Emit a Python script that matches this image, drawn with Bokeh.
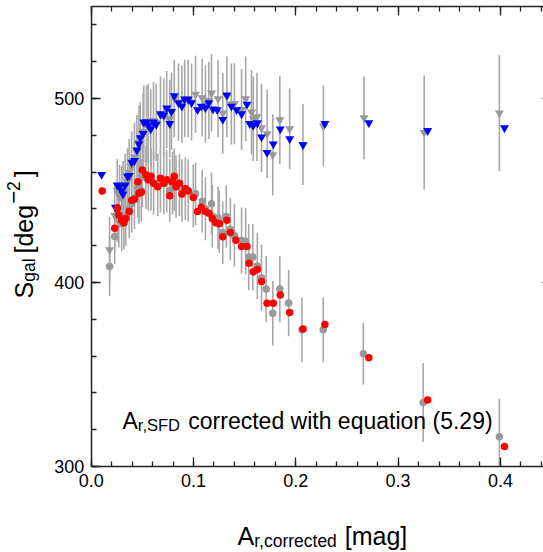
import math
import numpy as np
from bokeh.plotting import figure
from bokeh.models import (Range1d, LinearAxis, Label, ColumnDataSource,
                          SingleIntervalTicker, PrintfTickFormatter,
                          CustomJSTickFormatter)
from bokeh.embed import file_html
from bokeh.resources import INLINE

# ---------------- data ----------------
# upper series: gray (uncorrected) triangles with error bars
x_tri = [0.0180,0.0230,0.0254,0.0277,0.0298,0.0311,0.0332,0.0355,0.0372,0.0396,0.0423,0.0447,0.0467,0.0480,0.0508,0.0514,0.0541,0.0558,0.0582,0.0609,0.0636,0.0677,0.0710,0.0738,0.0768,0.0785,0.0812,0.0853,0.0887,0.0914,0.0948,0.0981,0.1020,0.1085,0.1117,0.1150,0.1176,0.1240,0.1286,0.1326,0.1370,0.1400,0.1470,0.1510,0.1567,0.1584,0.1620,0.1665,0.1720,0.1775,0.1844,0.1940,0.2070,0.2270,0.2667,0.3255,0.3990]
y_tri = [417.8,436.3,450.0,447.0,446.0,449.0,452.0,455.0,460.0,463.0,468.0,471.0,476.0,478.0,482.0,486.0,486.0,487.0,484.0,488.0,487.0,491.0,490.0,494.0,489.0,493.0,500.0,498.0,497.0,500.0,500.0,498.0,502.2,500.4,497.0,499.0,503.0,499.8,492.0,501.0,497.0,497.1,494.0,499.8,492.6,489.0,490.0,484.0,480.8,469.4,488.4,483.5,475.0,485.0,489.5,481.5,492.0]
err_tri = [18,17,17,17,17,17,18,18,18,19,19,20,20,20,21,21,21,21,21,21,21,21,21,21,21,21,21,21,21,21,21,21,21,21,21,21,21,21,22,22,22,22,22,23,23,23,24,24,24,22,24,22,22,22,22.5,31,31.5]

# upper series: blue (corrected) triangles
x_blue = [0.0102,0.0237,0.0254,0.0277,0.0298,0.0311,0.0332,0.0355,0.0372,0.0396,0.0423,0.0447,0.0467,0.0480,0.0508,0.0514,0.0541,0.0558,0.0582,0.0609,0.0636,0.0677,0.0710,0.0738,0.0768,0.0785,0.0812,0.0853,0.0887,0.0914,0.0948,0.0981,0.1040,0.1076,0.1117,0.1150,0.1191,0.1232,0.1286,0.1326,0.1370,0.1421,0.1470,0.1523,0.1550,0.1584,0.1624,0.1665,0.1719,0.1780,0.1848,0.1940,0.2071,0.2284,0.2714,0.3289,0.4040]
y_blue = [458.6,440.9,452.9,452.0,450.0,448.1,452.9,457.7,458.1,465.3,466.3,472.0,475.2,478.6,480.9,487.2,487.2,485.3,483.4,487.2,485.9,491.6,491.0,494.8,486.3,492.9,501.5,497.7,495.8,499.6,499.6,497.7,493.9,495.8,494.9,497.7,494.3,493.9,488.6,501.9,495.8,493.9,491.6,496.8,486.3,485.3,486.7,479.0,470.6,475.2,483.4,478.1,474.8,486.3,486.8,482.5,484.0]

# lower series: gray (uncorrected) circles with error bars
x_circ = [0.0180,0.0230,0.0257,0.0270,0.0298,0.0320,0.0338,0.0372,0.0396,0.0423,0.0457,0.0467,0.0490,0.0500,0.0535,0.0558,0.0585,0.0610,0.0650,0.0677,0.0710,0.0738,0.0768,0.0795,0.0812,0.0829,0.0863,0.0887,0.0920,0.0948,0.0998,0.1020,0.1085,0.1117,0.1176,0.1184,0.1240,0.1252,0.1286,0.1320,0.1360,0.1400,0.1470,0.1510,0.1540,0.1580,0.1624,0.1665,0.1710,0.1775,0.1844,0.1930,0.2060,0.2268,0.2660,0.3245,0.3990]
y_circ = [408.7,425.0,437.0,434.0,432.0,433.0,436.0,440.0,443.0,446.0,452.0,449.0,450.0,458.0,457.0,456.0,456.0,454.0,453.0,455.0,454.0,455.0,450.0,454.0,456.0,452.0,453.0,450.0,451.0,450.0,447.0,448.2,444.2,440.0,442.8,436.0,435.2,433.0,427.0,435.9,429.0,425.5,422.8,422.4,413.8,413.8,409.0,402.6,396.4,383.3,396.4,388.8,374.3,374.3,361.3,334.8,316.2]
err_circ = [16,15,15,15,15,15,16,16,16,17,17,17,17,17,17,17,17,17,17,17,17,17,17,17,17,17,17,17,17,17,17,17,17,17,17,17,17,17,17,17,17,17,18,18,18,18,18,18,18,17.6,18,18,17.6,17.6,16.8,21.5,20.6]

# lower series: red (corrected) circles
x_red = [0.0108,0.0230,0.0257,0.0270,0.0298,0.0320,0.0338,0.0372,0.0396,0.0423,0.0457,0.0467,0.0490,0.0500,0.0535,0.0558,0.0585,0.0610,0.0650,0.0677,0.0710,0.0738,0.0768,0.0795,0.0812,0.0829,0.0863,0.0887,0.0920,0.0948,0.0998,0.1040,0.1076,0.1117,0.1150,0.1184,0.1218,0.1252,0.1286,0.1326,0.1360,0.1414,0.1470,0.1523,0.1543,0.1584,0.1624,0.1665,0.1719,0.1780,0.1848,0.1940,0.2071,0.2284,0.2714,0.3289,0.4040]
y_red = [449.7,429.5,440.5,436.7,433.8,432.5,434.8,438.6,444.7,445.3,454.8,448.5,449.1,461.1,458.6,455.8,457.7,453.9,452.0,456.7,453.9,455.8,447.2,454.8,457.7,452.0,453.9,448.1,451.0,449.7,446.2,438.6,440.9,438.6,437.7,434.8,432.5,431.9,424.9,433.8,427.2,423.0,419.5,419.5,410.4,405.8,407.1,400.5,388.7,388.7,393.2,383.7,374.7,377.2,359.1,336.2,310.9]

# plot box (axis limits)
X_MIN, X_MAX = 0.0, 0.45
Y_MIN, Y_MAX = 300.0, 550.0

FONT = "Liberation Sans"
GRAY_BAR = "#a8a8a8"
GRAY_PT = "#999999"
AX_COL = "#222222"

W, H = 543, 552
# frame fills the whole canvas; the plot box is drawn with fixed-location axes
PX_LEFT, PX_BOTTOM, PX_PER_X, PX_PER_Y = 90.7, 466.0, 1023.0, 1.84
x_range = Range1d(X_MIN - PX_LEFT / PX_PER_X, X_MIN + (W - PX_LEFT) / PX_PER_X)
y_range = Range1d(Y_MIN - (H - PX_BOTTOM) / PX_PER_Y, Y_MIN + PX_BOTTOM / PX_PER_Y)

p = figure(width=W, height=H, output_backend="svg", toolbar_location=None,
           x_range=x_range, y_range=y_range, min_border=0,
           x_axis_location=None, y_axis_location=None)
p.xgrid.visible = False
p.ygrid.visible = False
p.outline_line_color = None
p.background_fill_color = "white"
p.border_fill_color = "white"

tri_lo = np.maximum(np.array(y_tri) - np.array(err_tri), Y_MIN)
tri_hi = np.minimum(np.array(y_tri) + np.array(err_tri), Y_MAX)
circ_lo = np.maximum(np.array(y_circ) - np.array(err_circ), Y_MIN)
circ_hi = np.minimum(np.array(y_circ) + np.array(err_circ), Y_MAX)
tri_src = ColumnDataSource(dict(x=x_tri, y=y_tri, lo=tri_lo, hi=tri_hi))
circ_src = ColumnDataSource(dict(x=x_circ, y=y_circ, lo=circ_lo, hi=circ_hi))

p.segment(x0="x", y0="lo", x1="x", y1="hi", source=tri_src,
          line_color=GRAY_BAR, line_width=1.6)
p.segment(x0="x", y0="lo", x1="x", y1="hi", source=circ_src,
          line_color=GRAY_BAR, line_width=1.6)
p.scatter(x="x", y="y", source=tri_src, marker="inverted_triangle", size=9,
          fill_color=GRAY_PT, line_color=None)
p.scatter(x="x", y="y", source=circ_src, marker="circle", size=7.5,
          fill_color=GRAY_PT, line_color=None)
p.scatter(x=x_blue, y=y_blue, marker="inverted_triangle", size=9,
          fill_color="#0000ff", line_color=None)
p.scatter(x=x_red, y=y_red, marker="circle", size=7.5,
          fill_color="#ff0000", line_color=None)

# ---------------- axes (box with inward ticks) ----------------
def make_axis(loc, fixed, bounds, interval, labels, fmt=None):
    ax = LinearAxis(fixed_location=fixed, bounds=bounds,
                    ticker=SingleIntervalTicker(interval=interval, num_minor_ticks=5))
    ax.axis_line_color = AX_COL
    ax.axis_line_width = 1.5
    ax.major_tick_line_color = AX_COL
    ax.minor_tick_line_color = AX_COL
    ax.major_tick_line_width = 1.3
    ax.minor_tick_line_width = 1.3
    ax.major_tick_in = 9
    ax.major_tick_out = 0
    ax.minor_tick_in = 5
    ax.minor_tick_out = 0
    ax.axis_label = None
    if labels:
        ax.formatter = PrintfTickFormatter(format=fmt)
        ax.major_label_text_font = FONT
        ax.major_label_text_font_size = "18px"
        ax.major_label_text_color = "black"
        ax.major_label_standoff = 7
    else:
        ax.formatter = CustomJSTickFormatter(code="return ''")
        ax.major_label_standoff = 0
    p.add_layout(ax, loc)
    return ax

make_axis("below", Y_MIN, (X_MIN, X_MAX), 0.1, True, "%.1f")
make_axis("left", X_MIN, (Y_MIN, Y_MAX), 100, True, "%d")
make_axis("above", Y_MAX, (X_MIN, X_MAX), 0.1, False)
make_axis("right", X_MAX, (Y_MIN, Y_MAX), 100, False)

# ---------------- rich text labels ----------------
ARIAL_W = {' ': 278, '(': 333, ')': 333, ',': 278, '.': 278, '[': 278, ']': 278,
           '0': 556, '1': 556, '2': 556, '5': 556, '9': 556, '\u2212': 584,
           'A': 667, 'D': 722, 'F': 611, 'S': 667,
           'a': 556, 'c': 500, 'd': 556, 'e': 556, 'g': 556, 'h': 556, 'i': 222,
           'l': 222, 'm': 833, 'n': 556, 'o': 556, 'q': 556, 'r': 333, 't': 278,
           'u': 556, 'w': 722}
BASE_FIX = 7  # Bokeh's alphabetic anchor sits a little above the glyph baseline

def text_width(s, size):
    return sum(ARIAL_W.get(c, 556) for c in s) * size / 1000.0

def rich_label(pieces, px, py, vertical=False):
    """pieces: (text, font px, baseline shift up, extra gap before);
    px, py: page position of the start of the first piece's baseline."""
    if vertical:
        sx0, sy0 = px - BASE_FIX, H - py
    else:
        sx0, sy0 = px, H - py + BASE_FIX
    pos = 0.0
    for text, size, shift, gap in pieces:
        lead = len(text) - len(text.lstrip(" "))
        pos += text_width(" " * lead, size) + gap
        body = text.strip(" ")
        if vertical:
            lab = Label(x=sx0 - shift, y=sy0 + pos, angle=math.pi / 2)
        else:
            lab = Label(x=sx0 + pos, y=sy0 + shift)
        lab.x_units = "screen"
        lab.y_units = "screen"
        lab.text = body
        lab.text_font = FONT
        lab.text_font_size = f"{size}px"
        lab.text_color = "black"
        lab.text_baseline = "alphabetic"
        lab.text_align = "left"
        p.add_layout(lab)
        pos += text_width(body, size)

# annotation inside the plot
rich_label([("A", 23, 0, 0), ("r,SFD", 16.5, -4, 0),
            (" corrected with equation (5.29)", 23, 0, 1)], 122, 427)
# x axis label
rich_label([("A", 25, 0, 0), ("r,corrected", 17.5, -5, 0), (" [mag]", 25, 0, 0)], 237, 542)
# y axis label
rich_label([("S", 25, 0, 0), ("gal", 17.5, -5, 0), ("[deg", 25, 0, 5),
            ("\u2212", 22, 10, 1), ("2", 17.5, 10, 0), ("]", 25, 0, 4)],
           30, 298, vertical=True)

open("out.html", "w").write(file_html(p, INLINE))
